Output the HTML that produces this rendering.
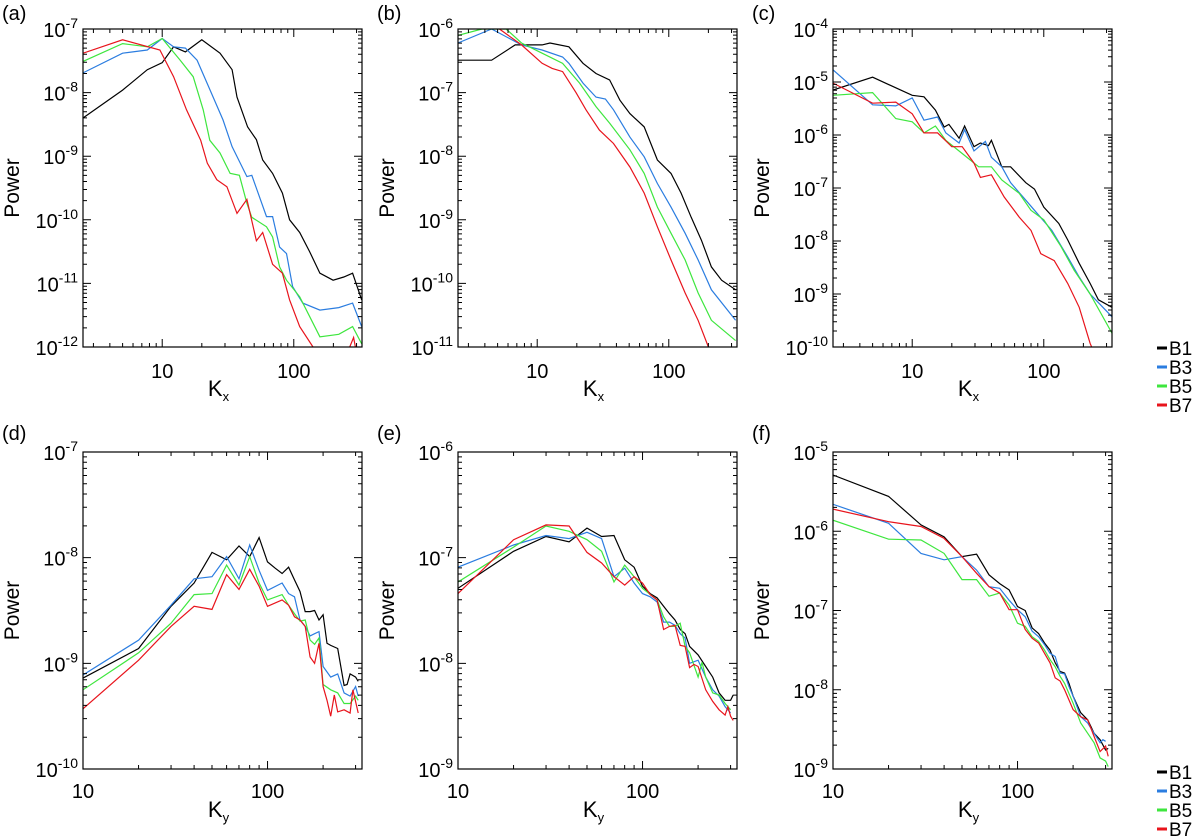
<!DOCTYPE html>
<html><head><meta charset="utf-8"><style>
html,body{margin:0;padding:0;background:#fff;}
svg{display:block;font-family:"Liberation Sans",Arial,sans-serif;}
</style></head><body>
<svg id="fig" width="1200" height="840" viewBox="0 0 1200 840"></svg>
<script>
// ---- data: wavenumbers (K) and log10 power per series ----
const seriesNames = ["B1","B3","B5","B7"];
const seriesColors = ["#000000","#2b7de0","#3ee63e","#e8141c"];

// panel (a) Kx
const aK_B1=[2.5,5,7.7,10,12.2,15,20,27.5,34,37,44.6,52,58,69,82,93,111,132,158,199,240,280,328];
const aP_B1=[-8.4,-7.96,-7.64,-7.53,-7.28,-7.36,-7.17,-7.38,-7.64,-8.07,-8.54,-8.74,-9.06,-9.27,-9.58,-10.0,-10.2,-10.5,-10.84,-10.95,-10.9,-10.84,-11.26];
const aK_B3=[2.5,5,7.7,10,12.2,15,18.4,23.1,29,34,44,48,62,69,78,88,98,117,158,220,280,328];
const aP_B3=[-7.69,-7.38,-7.33,-7.15,-7.28,-7.3,-7.49,-7.96,-8.43,-8.85,-9.32,-9.3,-9.95,-9.95,-10.43,-10.53,-11.05,-11.31,-11.42,-11.38,-11.31,-11.68];
const aK_B5=[2.5,5,7.7,10,13.7,17.2,20.5,23,27.5,32.8,38.6,44,48,62,69,78,88,111,158,220,280,328];
const aP_B5=[-7.51,-7.23,-7.28,-7.15,-7.49,-7.75,-8.27,-8.75,-8.95,-9.27,-9.3,-9.74,-9.96,-10.11,-10.27,-10.74,-10.95,-11.21,-11.84,-11.8,-11.68,-11.95];
const aK_B7=[2.5,5,9.6,12.2,15.3,19.6,22,26,31,37,44,52,58,69,82,93,111,140,160,260,285,300];
const aP_B7=[-7.38,-7.17,-7.33,-7.75,-8.27,-8.75,-9.11,-9.37,-9.48,-9.9,-9.68,-10.33,-10.2,-10.7,-10.84,-11.26,-11.68,-12.0,-12.1,-12.05,-11.85,-12.1];

// panel (b) Kx
const bK_B1=[2.5,4.5,6.8,10.9,12.5,17.4,22.3,28,35.5,42.5,50.6,65,82,104,124,148,177,211,252,322];
const bP_B1=[-6.49,-6.49,-6.25,-6.25,-6.22,-6.28,-6.54,-6.7,-6.8,-7.12,-7.33,-7.54,-8.06,-8.27,-8.58,-8.96,-9.32,-9.74,-9.95,-10.1];
const bK_B3=[2.5,4.5,7.6,10.9,15.6,17.4,22.3,28,33,38,50.6,65,82,104,133,167,211,322];
const bP_B3=[-6.22,-6.0,-6.25,-6.33,-6.44,-6.54,-6.85,-7.07,-7.1,-7.27,-7.7,-8.01,-8.43,-8.8,-9.21,-9.63,-10.1,-10.58];
const bK_B5=[2.5,3.8,5.8,7.6,10.9,15.6,21,28,35.5,50.6,65,82,104,133,167,211,322];
const bP_B5=[-6.1,-6.0,-6.0,-6.22,-6.38,-6.54,-6.85,-7.22,-7.48,-7.9,-8.27,-8.8,-9.21,-9.63,-10.15,-10.58,-10.9];
const bK_B7=[2.5,5,7.6,10.9,13,15.6,19.7,23.5,29.7,38,50.6,65,82,104,133,167,200,230];
const bP_B7=[-5.85,-5.98,-6.25,-6.54,-6.62,-6.67,-7.0,-7.27,-7.59,-7.8,-8.17,-8.58,-9.11,-9.63,-10.15,-10.58,-11.0,-11.2];

// panel (c) Kx
const cK_B1=[2.5,5,10,12.3,15,17.5,19,22.7,25,29.5,33,38,40,48,56,73,85,100,130,152,186,225,260,330];
const cP_B1=[-5.15,-4.91,-5.25,-5.28,-5.53,-5.85,-5.8,-6.06,-5.83,-6.22,-6.15,-6.2,-6.1,-6.6,-6.6,-6.9,-7.02,-7.36,-7.67,-7.98,-8.42,-8.8,-9.11,-9.25];
const cK_B3=[2.5,5,7.5,10,12.3,15.6,18,22.7,25,29.5,36,40,48,56,73,85,115,152,186,225,330];
const cP_B3=[-4.77,-5.43,-5.45,-5.3,-5.72,-5.66,-5.96,-6.15,-5.9,-6.3,-6.12,-6.42,-6.6,-6.9,-7.23,-7.42,-7.8,-8.3,-8.68,-9.0,-9.43];
const cK_B5=[2.5,5,7.5,10,12.3,15,18,24,32,40,48,65,80,100,135,170,225,330];
const cP_B5=[-5.25,-5.2,-5.69,-5.75,-5.96,-5.83,-6.1,-6.35,-6.6,-6.6,-6.85,-7.1,-7.42,-7.6,-8.1,-8.55,-9.0,-9.74];
const cK_B7=[2.5,5,7.5,10,12.3,15.6,20,24,29.5,33,40,50,65,80,95,120,152,186,225,260];
const cP_B7=[-5.02,-5.4,-5.38,-5.6,-5.96,-5.96,-6.22,-6.22,-6.53,-6.8,-6.75,-7.17,-7.55,-7.8,-8.24,-8.37,-8.8,-9.25,-9.93,-10.3];

// panel (d) Ky
const dK_B1=[10,20,30,40,50,60,70,80,90,100,110,120,130,140,150,160,170,180,190,200,210,220,240,260,270,280,300,310];
const dP_B1=[-9.14,-8.86,-8.46,-8.24,-7.95,-8.02,-7.89,-7.99,-7.81,-8.04,-8.1,-8.15,-8.09,-8.21,-8.32,-8.51,-8.51,-8.5,-8.59,-8.54,-8.81,-8.83,-8.86,-9.21,-9.2,-9.1,-9.13,-9.17];
const dK_B3=[10,20,30,40,50,60,70,80,90,100,120,130,140,150,160,170,180,190,200,220,240,260,280,300,310];
const dP_B3=[-9.11,-8.78,-8.45,-8.2,-8.18,-7.99,-8.2,-7.88,-8.12,-8.31,-8.24,-8.34,-8.37,-8.59,-8.65,-8.74,-8.72,-8.7,-9.03,-9.13,-9.1,-9.28,-9.31,-9.22,-9.31];
const dK_B5=[10,20,30,40,50,60,70,80,90,100,120,130,140,150,160,170,180,190,200,220,240,260,280,300,310];
const dP_B5=[-9.25,-8.9,-8.62,-8.35,-8.34,-8.07,-8.26,-7.99,-8.24,-8.4,-8.35,-8.45,-8.53,-8.6,-8.59,-8.78,-8.82,-8.76,-9.2,-9.25,-9.28,-9.38,-9.38,-9.31,-9.35];
const dK_B7=[10,20,30,40,50,60,70,80,90,100,120,130,140,150,160,170,180,190,200,210,220,230,240,260,280,290,310];
const dP_B7=[-9.43,-8.97,-8.65,-8.46,-8.49,-8.16,-8.3,-8.11,-8.27,-8.46,-8.4,-8.45,-8.56,-8.59,-8.65,-8.94,-9.0,-8.81,-9.22,-9.35,-9.5,-9.3,-9.46,-9.44,-9.47,-9.25,-9.47];

// panel (e) Ky
const eK_B1=[10,20,30,40,50,60,70,80,90,100,110,120,130,140,150,160,170,180,200,220,240,260,280,300,310];
const eP_B1=[-7.29,-6.94,-6.8,-6.85,-6.72,-6.8,-6.79,-7.02,-7.09,-7.27,-7.34,-7.38,-7.46,-7.53,-7.59,-7.68,-7.72,-7.84,-7.92,-8.03,-8.13,-8.28,-8.35,-8.35,-8.3];
const eK_B3=[10,20,30,40,50,60,70,80,90,100,110,120,130,140,150,160,170,180,200,220,240,260,280,300];
const eP_B3=[-7.09,-6.88,-6.79,-6.82,-6.76,-6.82,-7.18,-7.1,-7.24,-7.34,-7.37,-7.42,-7.61,-7.61,-7.64,-7.72,-7.76,-8.0,-7.97,-8.13,-8.25,-8.31,-8.41,-8.47];
const eK_B5=[10,20,30,40,50,60,70,80,90,100,120,130,140,150,160,170,180,200,210,220,240,260,280,300];
const eP_B5=[-7.23,-6.9,-6.7,-6.75,-6.83,-6.94,-7.23,-7.07,-7.18,-7.29,-7.4,-7.56,-7.65,-7.65,-7.62,-7.84,-7.9,-8.13,-7.99,-8.13,-8.28,-8.3,-8.38,-8.44];
const eK_B7=[10,20,30,40,50,60,70,80,90,100,110,120,130,140,150,160,170,180,190,200,220,240,260,280,290,300,310];
const eP_B7=[-7.34,-6.83,-6.69,-6.7,-6.95,-7.05,-7.18,-7.26,-7.18,-7.24,-7.35,-7.4,-7.68,-7.65,-7.64,-7.83,-7.84,-8.04,-8.01,-8.03,-8.25,-8.36,-8.44,-8.49,-8.41,-8.5,-8.54];

// panel (f) Ky
const fK_B1=[10,20,30,40,50,60,70,80,90,100,110,120,130,140,150,160,170,180,190,200,220,240,260,280,300,310];
const fP_B1=[-5.29,-5.56,-5.92,-6.07,-6.32,-6.29,-6.55,-6.66,-6.74,-6.95,-7.0,-7.22,-7.29,-7.41,-7.5,-7.66,-7.77,-7.79,-7.92,-8.08,-8.29,-8.38,-8.55,-8.63,-8.76,-8.74];
const fK_B3=[10,20,30,40,50,60,70,80,90,100,110,120,130,140,150,160,170,180,190,200,220,240,260,280,290,300];
const fP_B3=[-5.66,-5.9,-6.28,-6.36,-6.32,-6.49,-6.7,-6.72,-6.87,-6.99,-7.08,-7.26,-7.33,-7.43,-7.54,-7.58,-7.79,-7.8,-7.96,-8.08,-8.34,-8.42,-8.55,-8.67,-8.63,-8.65];
const fK_B5=[10,20,30,40,50,60,70,80,90,100,110,120,130,140,150,160,170,180,200,220,240,260,280,300,310];
const fP_B5=[-5.86,-6.1,-6.11,-6.28,-6.61,-6.61,-6.82,-6.78,-6.93,-7.16,-7.2,-7.33,-7.39,-7.5,-7.62,-7.71,-7.83,-7.92,-8.17,-8.42,-8.55,-8.67,-8.86,-8.9,-8.97];
const fK_B7=[10,20,30,40,50,60,70,80,90,100,110,120,130,140,150,160,170,180,200,220,240,260,280,300,310];
const fP_B7=[-5.72,-5.88,-5.94,-6.09,-6.32,-6.53,-6.7,-6.78,-6.99,-6.99,-7.24,-7.35,-7.41,-7.54,-7.66,-7.85,-7.89,-8.0,-8.25,-8.34,-8.38,-8.59,-8.78,-8.71,-8.84];

const panelLabels=["(a)","(b)","(c)","(d)","(e)","(f)"];
const xTitles=["x","x","x","y","y","y"];
// y-axis ranges (log10 power) per panel: [min,max]
const yMinExp=[-12,-11,-10,-10,-9,-9];
const yMaxExp=[-7,-6,-4,-7,-6,-5];

// ---- layout ----
const NS="http://www.w3.org/2000/svg";
const svg=document.getElementById("fig");
const cols=[83,458,833], W=279;
const rows=[[29,347],[452,769]];
const xRangeTop=[Math.log10(2.5),Math.log10(330)];
const xRangeBot=[1,Math.log10(325)];
const dataK=[[aK_B1,aK_B3,aK_B5,aK_B7],[bK_B1,bK_B3,bK_B5,bK_B7],[cK_B1,cK_B3,cK_B5,cK_B7],[dK_B1,dK_B3,dK_B5,dK_B7],[eK_B1,eK_B3,eK_B5,eK_B7],[fK_B1,fK_B3,fK_B5,fK_B7]];
const dataP=[[aP_B1,aP_B3,aP_B5,aP_B7],[bP_B1,bP_B3,bP_B5,bP_B7],[cP_B1,cP_B3,cP_B5,cP_B7],[dP_B1,dP_B3,dP_B5,dP_B7],[eP_B1,eP_B3,eP_B5,eP_B7],[fP_B1,fP_B3,fP_B5,fP_B7]];

function mk(tag,attrs,parent){const e=document.createElementNS(NS,tag);for(const k in attrs)e.setAttribute(k,attrs[k]);(parent||svg).appendChild(e);return e;}

for(let p=0;p<6;p++){
  const r=p<3?0:1, c=p%3;
  const x0=cols[c], x1=x0+W, y0=rows[r][0], y1=rows[r][1];
  const xr=r===0?xRangeTop:xRangeBot;
  const ymin=yMinExp[p], ymax=yMaxExp[p];
  const sx=k=>x0+(Math.log10(k)-xr[0])/(xr[1]-xr[0])*(x1-x0);
  const sy=e=>y1-(e-ymin)/(ymax-ymin)*(y1-y0);
  const g=mk("g",{});
  
  
  const cp=mk("clipPath",{id:"clip"+p},g);
  mk("rect",{x:x0,y:y0,width:W,height:y1-y0},cp);
  // series
  for(let s=0;s<4;s++){
    const K=dataK[p][s], P=dataP[p][s];
    let d="";
    for(let i=0;i<K.length;i++){d+=(i?"L":"M")+sx(K[i]).toFixed(1)+","+sy(P[i]).toFixed(1);}
    const path=mk("path",{d:d,fill:"none",stroke:seriesColors[s],"stroke-width":"1.2","clip-path":"url(#clip"+p+")"},g);
    
    
  }
  // frame
  const fr=mk("rect",{x:x0,y:y0,width:W,height:y1-y0,fill:"none",stroke:"#000","stroke-width":"1.2"},g);
  
  
  // x ticks
  let tk="";
  for(let dec=0;dec<=3;dec++){
    for(let m=1;m<=9;m++){
      const k=m*Math.pow(10,dec);
      const lk=Math.log10(k);
      if(lk<xr[0]-1e-9||lk>xr[1]+1e-9)continue;
      const x=sx(k), L=m===1?8:4;
      tk+="M"+x+","+y1+"v-"+L+"M"+x+","+y0+"v"+L;
      if(m===1){
        const t=mk("text",{x:x,y:r===0?378:798,"text-anchor":"middle","font-size":"20"},g);
        t.textContent=String(k);
        
        
      }
    }
  }
  // y ticks
  for(let e=ymin;e<=ymax;e++){
    for(let m=1;m<=9;m++){
      const v=e+Math.log10(m);
      if(v>ymax+1e-9)continue;
      const y=sy(v), L=m===1?8:4;
      tk+="M"+x0+","+y+"h"+L+"M"+x1+","+y+"h-"+L;
    }
    const t=mk("text",{x:x0-5,y:sy(e)+8,"text-anchor":"end","font-size":"20"},g);
    
    
    const a=mk("tspan",{},t);a.textContent="10";
    const b=mk("tspan",{"font-size":"14",dy:"-9"},t);b.textContent=String(e);
  }
  mk("path",{d:tk,stroke:"#000","stroke-width":"1",fill:"none"},g);
  // titles
  const yt=mk("text",{x:0,y:0,transform:"translate("+(x0-64)+","+((y0+y1)/2)+") rotate(-90)","text-anchor":"middle","font-size":"21"},g);
  yt.textContent="Power";
  
  
  const xt=mk("text",{x:(x0+x1)/2-4,y:r===0?396:817,"text-anchor":"middle","font-size":"22"},g);
  
  
  const k1=mk("tspan",{},xt);k1.textContent="K";
  const k2=mk("tspan",{"font-size":"13",dy:"5"},xt);k2.textContent=xTitles[p];
  const pl=mk("text",{x:x0-81,y:r===0?20:440,"font-size":"20"},g);
  pl.textContent=panelLabels[p];
  
  
}
// legends
const legendTops=[348,772];
for(const ly of legendTops){
  const lg=mk("g",{});
  
  
  for(let s=0;s<4;s++){
    const y=ly+s*19;
    const sw=mk("rect",{x:1157,y:y-1.5,width:10,height:3,fill:seriesColors[s]},lg);
    
    
    const t=mk("text",{x:1169,y:y+7,"font-size":"19"},lg);
    t.textContent=seriesNames[s];
    
    
  }
}
</script>
</body></html>
